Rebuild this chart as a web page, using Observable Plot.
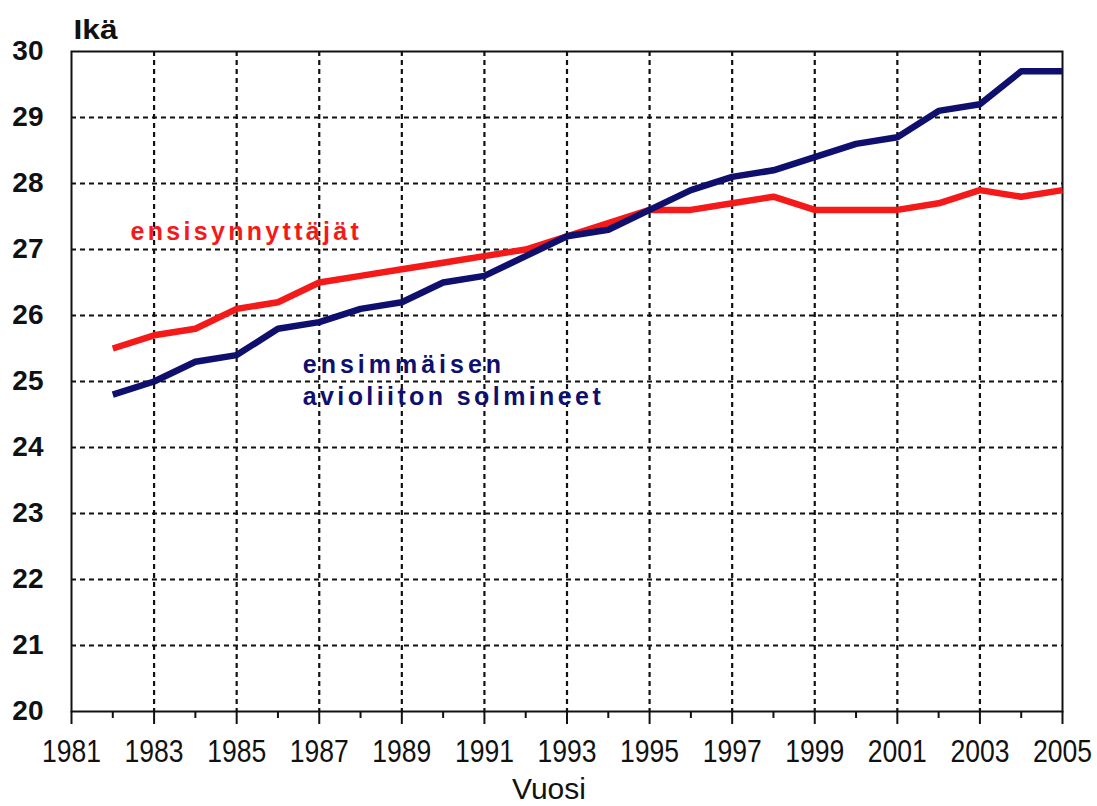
<!DOCTYPE html>
<html>
<head>
<meta charset="utf-8">
<script src="https://cdn.jsdelivr.net/npm/d3@7"></script>
<script src="https://cdn.jsdelivr.net/npm/@observablehq/plot@0.6"></script>
<style>
  html, body { margin: 0; padding: 0; background: #fff; }
  #chart { width: 1097px; height: 806px; }
</style>
</head>
<body>
<div id="chart"></div>
<script>
// Data
const years = [1982,1983,1984,1985,1986,1987,1988,1989,1990,1991,1992,1993,1994,1995,1996,1997,1998,1999,2000,2001,2002,2003,2004,2005];
const firstBirth = [25.5,25.7,25.8,26.1,26.2,26.5,26.6,26.7,26.8,26.9,27.0,27.2,27.4,27.6,27.6,27.7,27.8,27.6,27.6,27.6,27.7,27.9,27.8,27.9];
const firstMarriage = [24.8,25.0,25.3,25.4,25.8,25.9,26.1,26.2,26.5,26.6,26.9,27.2,27.3,27.6,27.9,28.1,28.2,28.4,28.6,28.7,29.1,29.2,29.7,29.7];
const seriesNames = ["ensisynnyttäjät", "ensimmäisen avioliiton solmineet"];
const blueLabelLines = ["ensimmäisen", "avioliiton solmineet"];
const xTickLabels = [1981,1983,1985,1987,1989,1991,1993,1995,1997,1999,2001,2003,2005];
const xMinorTicks = [1982,1984,1986,1988,1990,1992,1994,1996,1998,2000,2002,2004];
const yTickLabels = [20,21,22,23,24,25,26,27,28,29,30];
const yTitle = "Ikä";
const xTitle = "Vuosi";

const RED = "#f41a1a";
const BLUE = "#0f0f6e";

const rows = [];
years.forEach((yr, i) => {
  rows.push({year: yr, value: firstBirth[i], series: seriesNames[0]});
  rows.push({year: yr, value: firstMarriage[i], series: seriesNames[1]});
});

const sansFont = "'Liberation Sans', Arial, sans-serif";

const chart = Plot.plot({
  width: 1097,
  height: 806,
  marginLeft: 71,
  marginRight: 35,
  marginTop: 51,
  marginBottom: 95,
  style: {fontFamily: sansFont, background: "#fff", color: "#111"},
  x: {domain: [1981, 2005]},
  y: {domain: [20, 30]},
  marks: [
    Plot.ruleX(xTickLabels.slice(1, -1), {x: d => d, stroke: "#111", strokeWidth: 2.2, strokeDasharray: "5,4"}),
    Plot.ruleY(yTickLabels.slice(1, -1), {y: d => d, stroke: "#111", strokeWidth: 2.2, strokeDasharray: "5,4"}),
    Plot.frame({stroke: "#111", strokeWidth: 2}),
    Plot.line(rows, {x: "year", y: "value", z: "series", stroke: d => d.series === seriesNames[0] ? RED : BLUE, strokeWidth: 6.5, strokeLinejoin: "round", strokeLinecap: "butt"}),
    Plot.axisX(xTickLabels, {tickSize: 13, tickPadding: 15, tickFormat: d => String(d), fontSize: 32, fill: "#111", stroke: "#111", strokeWidth: 2, label: null}),
    Plot.axisX(xMinorTicks, {tickSize: 7, tickFormat: () => "", stroke: "#111", strokeWidth: 2, label: null}),
    Plot.axisY(yTickLabels, {tickSize: 0, tickPadding: 28, tickFormat: d => String(d), fontSize: 28, fontWeight: "bold", fill: "#111", label: null}),
    Plot.text([yTitle], {frameAnchor: "top-left", dx: 2, dy: -13, lineAnchor: "bottom", textAnchor: "start", fontSize: 28, fontWeight: "bold", fill: "#111"}),
    Plot.text([xTitle], {frameAnchor: "bottom", dx: -18, dy: 87, lineAnchor: "bottom", textAnchor: "middle", fontSize: 30, fill: "#111"}),
    Plot.text([seriesNames[0]], {x: 1982.43, y: 27.26, textAnchor: "start", lineAnchor: "middle", fontSize: 25, fontWeight: "bold", fill: RED}),
    Plot.text([blueLabelLines[0]], {x: 1986.6, y: 25.25, textAnchor: "start", lineAnchor: "middle", fontSize: 25, fontWeight: "bold", fill: BLUE}),
    Plot.text([blueLabelLines[1]], {x: 1986.6, y: 24.76, textAnchor: "start", lineAnchor: "middle", fontSize: 25, fontWeight: "bold", fill: BLUE})
  ]
});

// text styling tweaks (letter spacing, narrow tick digits)
d3.select(chart).selectAll("text").each(function() {
  const t = this.textContent;
  if (t === seriesNames[0]) this.setAttribute("letter-spacing", "3.3");
  if (t === blueLabelLines[0]) this.setAttribute("letter-spacing", "4");
  if (t === blueLabelLines[1]) this.setAttribute("letter-spacing", "3.4");
  if (/^\d{4}$/.test(t)) {
    const tr = this.getAttribute("transform") || "";
    this.setAttribute("transform", tr + " scale(0.83,1)");
  }
  if (t === yTitle) {
    this.setAttribute("textLength", "44");
    this.setAttribute("lengthAdjust", "spacingAndGlyphs");
  }
});

document.getElementById("chart").appendChild(chart);
</script>
</body>
</html>
